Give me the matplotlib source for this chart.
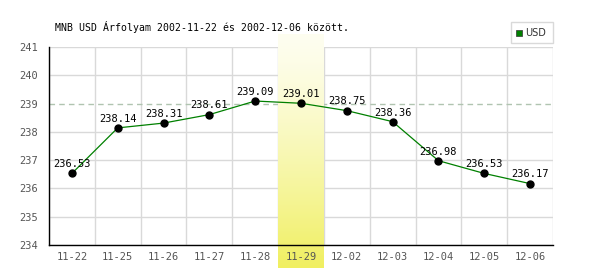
import matplotlib
matplotlib.use("Agg")
import matplotlib.pyplot as plt
import numpy as np
from matplotlib.patches import Rectangle

categories = ["11-22", "11-25", "11-26", "11-27", "11-28", "11-29",
              "12-02", "12-03", "12-04", "12-05", "12-06"]
values = [236.53, 238.14, 238.31, 238.61, 239.09, 239.01,
          238.75, 238.36, 236.98, 236.53, 236.17]
series_name = "USD"
title = "MNB USD Árfolyam 2002-11-22 és 2002-12-06 között."
highlight = "11-29"
ref_level = 239
y_ticks = [234, 235, 236, 237, 238, 239, 240, 241]

plt.rcParams['font.family'] = ['DejaVu Sans Mono']

fig = plt.figure(figsize=(6, 2.7), dpi=100)
ax = fig.add_axes([49/600, 25/270, 504/600, 198/270])

x = np.arange(len(categories))

# grid
for yv in y_ticks:
    if yv == ref_level:
        continue
    ax.axhline(yv, color='#d9d9d9', lw=1, zorder=0)
for b in np.arange(-0.5, len(categories), 1.0):
    ax.axvline(b, color='#d9d9d9', lw=1, zorder=0)
ax.axhline(ref_level, color='#b0c4b0', lw=1, ls=(0, (4, 3)), zorder=0.5)

# highlight band gradient
hi = categories.index(highlight)
grad = np.linspace(0, 1, 256).reshape(-1, 1) ** 1.3
top_c = np.array([0xfe, 0xfe, 0xf0]) / 255
bot_c = np.array([0xf0, 0xef, 0x60]) / 255
img = (top_c + (bot_c - top_c) * grad).reshape(256, 1, 3)
ytop = 241 + (47 - 34) / 28.3
ybot = 234 - (268 - 245) / 28.3
ax.imshow(img, extent=(hi - 0.5, hi + 0.5, ybot, ytop), aspect='auto',
          origin='upper', clip_on=False, zorder=1)
ax.set_xlim(-0.5, len(categories) - 0.5)
ax.set_ylim(y_ticks[0], y_ticks[-1])

ax.plot(x, values, color='#008000', lw=0.9, zorder=3)
ax.plot(x, values, 'o', color='black', ms=5, zorder=4)
for xi, v in zip(x, values):
    ax.annotate(f"{v:.2f}", (xi, v), xytext=(0, 3), textcoords='offset points',
                ha='center', va='bottom', fontsize=7.5, color='black', zorder=5)

ax.set_xticks(x)
ax.set_xticklabels(categories)
ax.set_yticks(y_ticks)
ax.tick_params(length=0, labelsize=7.5, labelcolor='#555555', pad=5)
ax.tick_params(axis='y', pad=8)
for s in ['top', 'right']:
    ax.spines[s].set_visible(False)
for s in ['left', 'bottom']:
    ax.spines[s].set_color('black')
    ax.spines[s].set_linewidth(1)
    ax.spines[s].set_zorder(6)

fig.text(55/600, 1 - 27/270, title, fontsize=7.1, color='black', va='center', ha='left')

# legend
fig.patches.append(Rectangle((511/600, 1 - 43/270), 42/600, 21/270,
                             transform=fig.transFigure, fill=True, facecolor='white',
                             edgecolor='#d9d9d9', lw=1))
fig.patches.append(Rectangle((516/600, 1 - 36/270), 6/600, 6/270,
                             transform=fig.transFigure, facecolor='#008000',
                             edgecolor='#333333', lw=0.5))
fig.text(525/600, 1 - 33/270, series_name, fontsize=7, color='#333333',
         va='center', ha='left', family='DejaVu Sans')

fig.savefig("out.png", dpi=100)
